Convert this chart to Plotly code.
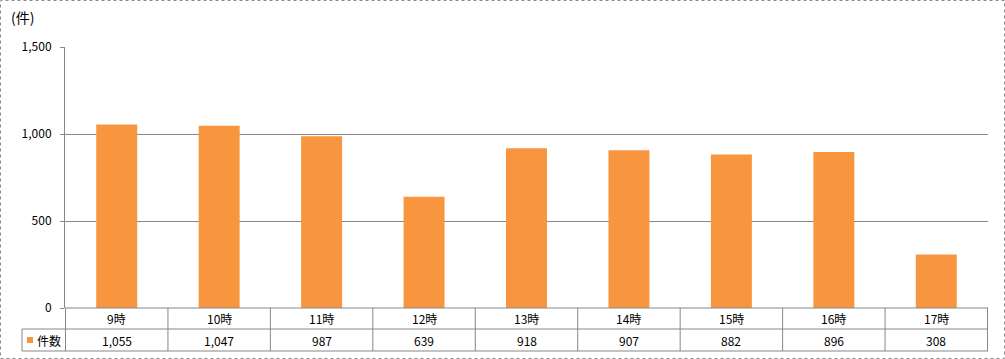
import plotly.graph_objects as go

categories = ["9時", "10時", "11時", "12時", "13時", "14時", "15時", "16時", "17時"]
counts = [1055, 1047, 987, 639, 918, 907, 882, 896, 308]
series_name = "件数"
y_ticks = [0, 500, 1000, 1500]
y_tick_labels = ["0", "500", "1,000", "1,500"]
unit_label = "(件)"

W, H = 1005, 359
L, R, T, B = 65, 17, 47, 51
PW, PH = W - L - R, H - T - B
BAR_COLOR = "#F7963F"
GRID = "#878787"
FONT = "Noto Sans CJK JP"

def px_x(px):
    return (px - L) / PW

def px_y(py):
    return (H - B - py) / PH

fig = go.Figure(go.Bar(x=categories, y=counts, marker=dict(color=BAR_COLOR, line=dict(width=0)),
                       width=0.4, name=series_name, showlegend=False, hoverinfo="skip"))

shapes = []
annotations = []
n = len(categories)
# table horizontal lines
for py, x0 in [(308, px_x(65)), (329, px_x(22)), (351, px_x(22))]:
    shapes.append(dict(type="line", xref="paper", yref="paper", x0=x0, x1=1.0, y0=px_y(py), y1=px_y(py),
                       line=dict(color=GRID, width=1)))
# vertical lines at category boundaries
for i in range(n + 1):
    shapes.append(dict(type="line", xref="x", yref="paper", x0=i - 0.5, x1=i - 0.5, y0=px_y(308), y1=px_y(351),
                       line=dict(color=GRID, width=1)))
shapes.append(dict(type="line", xref="paper", yref="paper", x0=px_x(22), x1=px_x(22), y0=px_y(329), y1=px_y(351),
                   line=dict(color=GRID, width=1)))
# legend key
shapes.append(dict(type="rect", xref="paper", yref="paper", x0=px_x(27), x1=px_x(33), y0=px_y(343), y1=px_y(337),
                   fillcolor=BAR_COLOR, line=dict(width=0)))
# outer border
shapes.append(dict(type="rect", xref="paper", yref="paper", x0=px_x(0.5), x1=px_x(1004.5), y0=px_y(358.5), y1=px_y(0.5),
                   line=dict(color="#8C8C8C", width=1, dash="dot")))

for i, (c, v) in enumerate(zip(categories, counts)):
    annotations.append(dict(x=c, y=px_y(318.5), xref="x", yref="paper", text=c, showarrow=False,
                            yanchor="middle", font=dict(size=12, color="black", family=FONT)))
    annotations.append(dict(x=c, y=px_y(340), xref="x", yref="paper", text=f"{v:,}", showarrow=False,
                            yanchor="middle", font=dict(size=12, color="black", family=FONT)))
annotations.append(dict(x=px_x(35), y=px_y(340), xref="paper", yref="paper", text=series_name, showarrow=False,
                        xanchor="left", yanchor="middle", font=dict(size=12, color="black", family=FONT)))
annotations.append(dict(x=px_x(9), y=px_y(17), xref="paper", yref="paper", text=unit_label, showarrow=False,
                        xanchor="left", yanchor="middle", font=dict(size=14, color="black", family=FONT)))

fig.update_layout(
    width=W, height=H,
    margin=dict(l=L, r=R, t=T, b=B, autoexpand=False),
    paper_bgcolor="white", plot_bgcolor="white",
    bargap=0.6,
    shapes=shapes, annotations=annotations,
    font=dict(family=FONT, size=12, color="black"),
    xaxis=dict(showticklabels=False, showgrid=False, zeroline=False, showline=False, ticks="", automargin=False),
    yaxis=dict(range=[0, 1500], tickvals=y_ticks, ticktext=y_tick_labels, showgrid=True, gridcolor=GRID,
               gridwidth=1, zeroline=False, showline=True, linecolor=GRID, linewidth=1, ticks="outside",
               ticklen=4, tickcolor=GRID, automargin=False, ticklabelstandoff=6,
               tickfont=dict(size=12, color="black", family=FONT)),
)

fig.write_html("out.html", config={"displayModeBar": False},
               post_script="document.body.style.margin='0px';document.body.style.overflow='hidden';")
